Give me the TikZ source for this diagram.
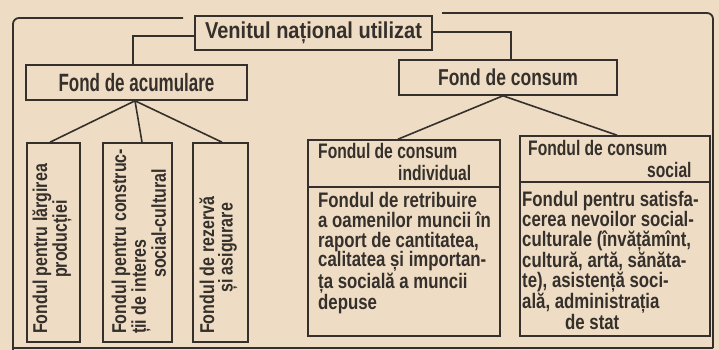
\documentclass[tikz,border=0pt]{standalone}
\usepackage{fontspec}
\setmainfont{Liberation Sans}
\newfontfamily\fT{Liberation Sans Bold}[FakeStretch=0.87]
\newfontfamily\fA{Liberation Sans Bold}[FakeStretch=0.68]
\newfontfamily\fC{Liberation Sans Bold}[FakeStretch=0.76]
\newfontfamily\fV{Liberation Sans Bold}[FakeStretch=0.80]
\newfontfamily\fH{Liberation Sans Bold}[FakeStretch=0.745]
\newfontfamily\fB{Liberation Sans Bold}[FakeStretch=0.80]
\definecolor{paper}{HTML}{EEDDC4}
\definecolor{ink}{HTML}{35302B}
\begin{document}
\begin{tikzpicture}[x=1pt,y=-1pt,
  box/.style={draw=ink, line width=1.6pt, rectangle, inner sep=0pt},
  wire/.style={draw=ink, line width=1.6pt},
  frame/.style={draw=ink, line width=1.8pt},
  vtxt/.style={inner sep=0pt, text=ink, align=left, rotate=90, anchor=north west,
    font=\fV\fontsize{20}{18.5}\selectfont},
  htxt/.style={inner sep=0pt, text=ink, align=left, anchor=north west,
    font=\fH\fontsize{21}{22}\selectfont},
  btxt/.style={inner sep=0pt, text=ink, align=left, anchor=north west,
    font=\fB\fontsize{21}{19.8}\selectfont}]
\fill[paper] (0,0) rectangle (719,350);
\useasboundingbox (0,0) rectangle (719,350);

% outer frame
\draw[frame, rounded corners=6pt] (183,18) -| (13,352);
\draw[frame, rounded corners=6pt] (442,13) -| (713,348);
\draw[frame] (13,348) -- (713,348);

% top level
\node[box, text=ink, minimum width=237pt, minimum height=34pt] (title) at (313.5,33)
  {\fT\fontsize{23}{24}\selectfont Venitul național utilizat};
\node[box, text=ink, minimum width=221pt, minimum height=35pt] (acc) at (136.5,82.5)
  {\fA\fontsize{25}{27}\selectfont Fond de acumulare};
\node[box, text=ink, minimum width=218pt, minimum height=35pt] (cons) at (508,77.5)
  {\fC\fontsize{23}{25}\selectfont Fond de consum};

\draw[wire] ([yshift=-3pt]title.west) -| ([xshift=-3.5pt]acc.north);
\draw[wire] ([yshift=1pt]title.east) -| ([xshift=3pt]cons.north);

% accumulation funds (vertical)
\node[box, minimum width=53pt, minimum height=199pt] (v1) at (53.5,242.5) {};
\node[box, minimum width=69pt, minimum height=199pt] (v2) at (137.5,242.5) {};
\node[box, minimum width=55pt, minimum height=199pt] (v3) at (220.5,242.5) {};

\draw[wire] ([xshift=-1.5pt]acc.south) -- ([xshift=-3.5pt]v1.north);
\draw[wire] ([xshift=-1.5pt]acc.south) -- ([xshift=4.5pt]v2.north);
\draw[wire] ([xshift=-1.5pt]acc.south) -- ([xshift=1.5pt]v3.north);

\node[vtxt] (t1) at (32,334) {\rule{0pt}{15pt}Fondul pentru lărgirea\\\hspace*{56pt}producției};
\node[vtxt] (t2) at (111,334) {\rule{0pt}{15pt}Fondul pentru construc-\\ții de interes\\\hspace*{56pt}social-cultural};
\node[vtxt] (t3) at (199,334) {\rule{0pt}{15pt}Fondul de rezervă\\\hspace*{41pt}și asigurare};

% consumption funds
\node[box, minimum width=192pt, minimum height=196pt] (ind) at (404,238) {};
\draw[wire] ([yshift=-48pt]ind.north west) -- ([yshift=-48pt]ind.north east);
\node[box, minimum width=190pt, minimum height=200pt] (soc) at (615,236) {};
\draw[wire] ([yshift=-47pt]soc.north west) -- ([yshift=-47pt]soc.north east);

\draw[wire] ([xshift=-5pt]cons.south) -- ([xshift=-6pt]ind.north);
\draw[wire] ([xshift=-5pt]cons.south) -- ([xshift=2pt]soc.north);

\node[htxt] (h1) at (318,143) {\rule{0pt}{15pt}Fondul de consum\\\hspace*{80pt}individual};
\node[htxt] (h2) at (528,140) {\rule{0pt}{15pt}Fondul de consum\\\hspace*{119pt}social};

\node[btxt] (b1) at (318,192) {\rule{0pt}{15pt}Fondul de retribuire\\a oamenilor muncii în\\raport de cantitatea,\\calitatea și importan-\\ța socială a muncii\\depuse};
\node[btxt] (b2) at (522,191) {\rule{0pt}{15pt}Fondul pentru satisfa-\\cerea nevoilor social-\\culturale (învățămînt,\\cultură, artă, sănăta-\\te), asistență soci-\\ală, administrația\\\hspace*{43pt}de stat};
\end{tikzpicture}
\end{document}
